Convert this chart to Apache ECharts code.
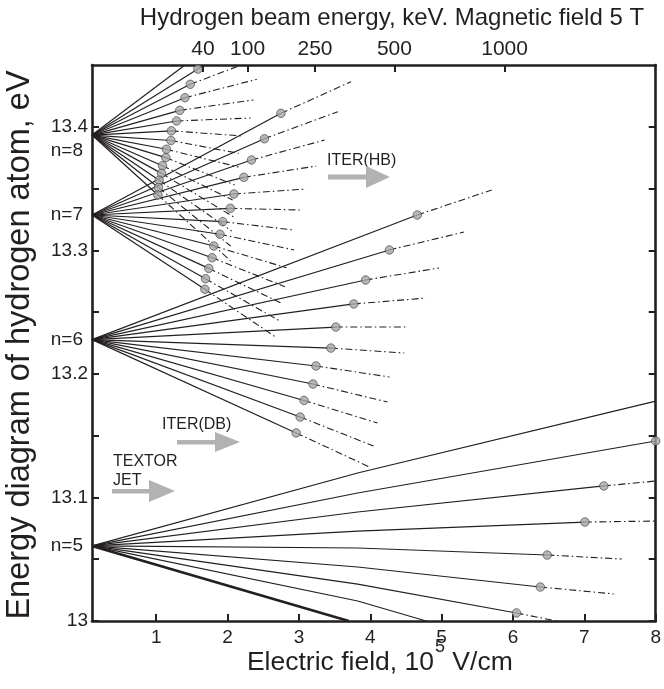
<!DOCTYPE html>
<html><head><meta charset="utf-8">
<script src="https://cdn.jsdelivr.net/npm/echarts@6/dist/echarts.min.js"></script>
<style>html,body{margin:0;padding:0;background:#fff}#c{width:664px;height:689px}</style>
</head><body><div id="c"></div>
<script>
// ---------- axes ----------
const fieldStart = 0.1;
const fieldEnd = 8;
const fieldTicks = [1, 2, 3, 4, 5, 6, 7, 8];
const energyMin = 13.0;
const energyMax = 13.45;
const energyTicks = [13.0, 13.05, 13.1, 13.15, 13.2, 13.25, 13.3, 13.35, 13.4];
const energyLabels = [13.0, 13.1, 13.2, 13.3, 13.4];
const beamEnergyLabels = ['40', '100', '250', '500', '1000'];
const beamFieldPos = [1.654, 2.280, 3.225, 4.338, 5.882];

// ---------- levels ----------
const levelN = [5, 6, 7, 8];
const levelE = [13.0608, 13.2277, 13.3286, 13.3933];

// ---------- n=5 Stark components ----------
const n5Mids = [[3.823, 13.1198], [3.823, 13.1036], [3.823, 13.0882], [3.823, 13.0728], [3.823, 13.0591], [3.823, 13.0437], [3.823, 13.0299], [3.823, 13.0162], null];
const n5Marks = [null, [8, 13.1457], [7.273, 13.1093], [7.008, 13.0801], [6.480, 13.0534], [6.383, 13.0275], [6.049, 13.0065], null, null];
const n5Ends = [[8, 13.178], null, [8, 13.1133], [8, 13.0809], [7.523, 13.0502], [7.411, 13.0219], [6.605, 13.0], [4.783, 13.0], [3.698, 13.0]];

// ---------- n=6 ----------
const n6Marks = [[4.658, 13.3286], [4.268, 13.3003], [3.935, 13.2760], [3.768, 13.2566], [3.517, 13.2379], [3.448, 13.2209], [3.239, 13.2064], [3.197, 13.1918], [3.072, 13.1785], [3.017, 13.1651], [2.961, 13.1522]];
const n6Ends = [[5.701, 13.3488], [5.312, 13.3148], [4.964, 13.2857], [4.783, 13.2614], [4.533, 13.2379], [4.477, 13.2169], [4.268, 13.1975], [4.241, 13.1772], [4.102, 13.1602], [4.046, 13.1416], [3.990, 13.1246]];

// ---------- n=7 ----------
const n7Marks = [[2.748, 13.4109], [2.516, 13.3903], [2.335, 13.3731], [2.228, 13.3591], [2.089, 13.3456], [2.039, 13.3340], [1.932, 13.3232], [1.894, 13.3130], [1.807, 13.3035], [1.783, 13.2940], [1.737, 13.2854], [1.691, 13.2770], [1.682, 13.2685]];
const n7Ends = [[3.730, 13.4365], [3.545, 13.4122], [3.360, 13.3893], [3.243, 13.3682], [3.104, 13.3496], [3.031, 13.3326], [2.933, 13.3164], [2.933, 13.3003], [2.826, 13.2859], [2.804, 13.2706], [2.757, 13.2571], [2.725, 13.2430], [2.679, 13.2296]];

// ---------- n=8 ----------
const n8Marks = [null, [1.584, 13.4467], [1.477, 13.4344], [1.403, 13.4235], [1.330, 13.4133], [1.285, 13.4047], [1.213, 13.3967], [1.206, 13.3889], [1.143, 13.3818], [1.135, 13.3750], [1.088, 13.3685], [1.074, 13.3623], [1.042, 13.3567], [1.032, 13.3508], [1.024, 13.3448]];
const n8Ends = [[1.403, 13.45], [1.682, 13.45], [2.154, 13.4492], [2.409, 13.4384], [2.363, 13.4217], [2.321, 13.4071], [2.224, 13.3925], [2.154, 13.3785], [2.154, 13.3674], [2.099, 13.3529], [2.071, 13.3407], [2.085, 13.3270], [2.057, 13.3156], [2.043, 13.3035], [2.043, 13.2914]];

// ---------- build ----------
const FONT = 'Liberation Sans, Arial, sans-serif';
const INK = '#231f20';
const series = [];
const markerPts = [];

function addFan(levelIdx, mids, marks, ends, thickLast) {
  const origin = [fieldStart, levelE[levelIdx]];
  const count = marks.length;
  for (let i = 0; i < count; i++) {
    const pts = [origin];
    if (mids && mids[i]) pts.push(mids[i]);
    const m = marks[i];
    if (m) {
      pts.push(m);
      markerPts.push(m);
    } else if (ends[i]) {
      pts.push(ends[i]);
    }
    series.push({
      type: 'line', data: pts, symbol: 'none', silent: true, animation: false, z: 2,
      lineStyle: { color: INK, width: (thickLast && i === count - 1) ? 2.6 : 1.2 }
    });
    if (m && ends[i]) {
      series.push({
        type: 'line', data: [m, ends[i]], symbol: 'none', silent: true, animation: false, z: 2,
        lineStyle: { color: INK, width: 1.1, type: [7, 3, 1.5, 3] }
      });
    }
  }
}
addFan(0, n5Mids, n5Marks, n5Ends, true);
addFan(1, null, n6Marks, n6Ends, false);
addFan(2, null, n7Marks, n7Ends, false);
addFan(3, null, n8Marks, n8Ends, false);

series.push({
  type: 'scatter', data: markerPts, symbol: 'circle', symbolSize: 8.5, silent: true, animation: false, z: 5,
  itemStyle: { color: '#a6a6a6', borderColor: '#3a3a3a', borderWidth: 0.8 }
});

const axisLineStyle = { show: true, onZero: false, lineStyle: { color: INK, width: 2.6 } };
const tickStyle = { color: INK, width: 2 };

function nearestIdx(arr, v) {
  let b = 0; for (let i = 1; i < arr.length; i++) if (Math.abs(arr[i] - v) < Math.abs(arr[b] - v)) b = i; return b;
}

const option = {
  backgroundColor: '#fff',
  animation: false,
  grid: { left: 92, right: 4, top: 65, bottom: 68, containLabel: false },
  xAxis: [
    {
      type: 'value', min: fieldStart, max: fieldEnd, position: 'bottom',
      axisLine: axisLineStyle,
      axisTick: { show: true, inside: true, length: 7, lineStyle: tickStyle, customValues: fieldTicks },
      axisLabel: { customValues: fieldTicks, fontSize: 19, color: INK, fontFamily: FONT, margin: 7 },
      splitLine: { show: false }
    },
    {
      type: 'value', min: fieldStart, max: fieldEnd, position: 'top',
      axisLine: axisLineStyle,
      axisTick: { show: true, inside: true, length: 7, lineStyle: tickStyle, customValues: beamFieldPos },
      axisLabel: {
        customValues: beamFieldPos, fontSize: 21, color: INK, fontFamily: FONT, margin: 5,
        formatter: v => beamEnergyLabels[nearestIdx(beamFieldPos, v)]
      },
      splitLine: { show: false }
    }
  ],
  yAxis: [
    {
      type: 'value', min: energyMin, max: energyMax, position: 'left',
      axisLine: axisLineStyle,
      axisTick: { show: true, inside: true, length: 7, lineStyle: tickStyle, customValues: energyTicks },
      axisLabel: {
        customValues: energyLabels, fontSize: 19, color: INK, fontFamily: FONT, margin: 4,
        formatter: v => (Math.abs(v - 13) < 1e-9 ? '13' : v.toFixed(1))
      },
      splitLine: { show: false }
    },
    {
      type: 'value', min: energyMin, max: energyMax, position: 'right',
      axisLine: axisLineStyle,
      axisTick: { show: true, inside: true, length: 7, lineStyle: tickStyle, customValues: energyTicks },
      axisLabel: { show: false },
      splitLine: { show: false }
    },
    {
      type: 'value', min: energyMin, max: energyMax, position: 'left',
      axisLine: { show: false }, axisTick: { show: false }, splitLine: { show: false },
      axisLabel: {
        customValues: levelE, fontSize: 19, color: INK, fontFamily: FONT, margin: 9,
        formatter: v => {
          const n = levelN[nearestIdx(levelE, v)];
          return n === 8 ? '{low|n=8}' : 'n=' + n;
        },
        rich: { low: { fontSize: 19, fontFamily: FONT, color: INK, padding: [32, 0, 0, 0] } }
      }
    }
  ],
  graphic: [
    {
      type: 'text', x: 392, y: 18,
      style: { text: 'Hydrogen beam energy, keV. Magnetic field 5 T', fontSize: 24, fontFamily: FONT, fill: INK, textAlign: 'center', textVerticalAlign: 'middle' }
    },
    {
      type: 'text', x: 434, y: 663,
      style: { text: 'Electric field, 10', fontSize: 26.5, fontFamily: FONT, fill: INK, textAlign: 'right', textVerticalAlign: 'middle' }
    },
    {
      type: 'text', x: 435, y: 647,
      style: { text: '5', fontSize: 18, fontFamily: FONT, fill: INK, textAlign: 'left', textVerticalAlign: 'middle' }
    },
    {
      type: 'text', x: 445, y: 663,
      style: { text: ' V/cm', fontSize: 26.5, fontFamily: FONT, fill: INK, textAlign: 'left', textVerticalAlign: 'middle' }
    },
    {
      type: 'text', x: 20, y: 345, rotation: Math.PI / 2,
      style: { text: 'Energy diagram of hydrogen atom, eV', fontSize: 32.5, fontFamily: FONT, fill: INK, textAlign: 'center', textVerticalAlign: 'middle' }
    },
    { type: 'text', x: 327, y: 161, style: { text: 'ITER(HB)', fontSize: 16, fontFamily: FONT, fill: INK, textVerticalAlign: 'middle' } },
    { type: 'polygon', shape: { points: [[328, 174.5], [366, 174.5], [366, 166], [390, 177], [366, 188], [366, 179.5], [328, 179.5]] }, style: { fill: '#b2b2b2' } },
    { type: 'text', x: 162, y: 425, style: { text: 'ITER(DB)', fontSize: 16, fontFamily: FONT, fill: INK, textVerticalAlign: 'middle' } },
    { type: 'polygon', shape: { points: [[177, 440], [215, 440], [215, 432], [240, 442], [215, 452], [215, 444.5], [177, 444.5]] }, style: { fill: '#b2b2b2' } },
    { type: 'text', x: 113, y: 462, style: { text: 'TEXTOR', fontSize: 16, fontFamily: FONT, fill: INK, textVerticalAlign: 'middle' } },
    { type: 'text', x: 113, y: 481, style: { text: 'JET', fontSize: 16, fontFamily: FONT, fill: INK, textVerticalAlign: 'middle' } },
    { type: 'polygon', shape: { points: [[112, 489], [149, 489], [149, 480], [175, 491], [149, 502], [149, 493.5], [112, 493.5]] }, style: { fill: '#b2b2b2' } }
  ],
  series: series
};

const chart = echarts.init(document.getElementById('c'), null, { renderer: 'canvas' });
chart.setOption(option);
</script>
</body></html>
